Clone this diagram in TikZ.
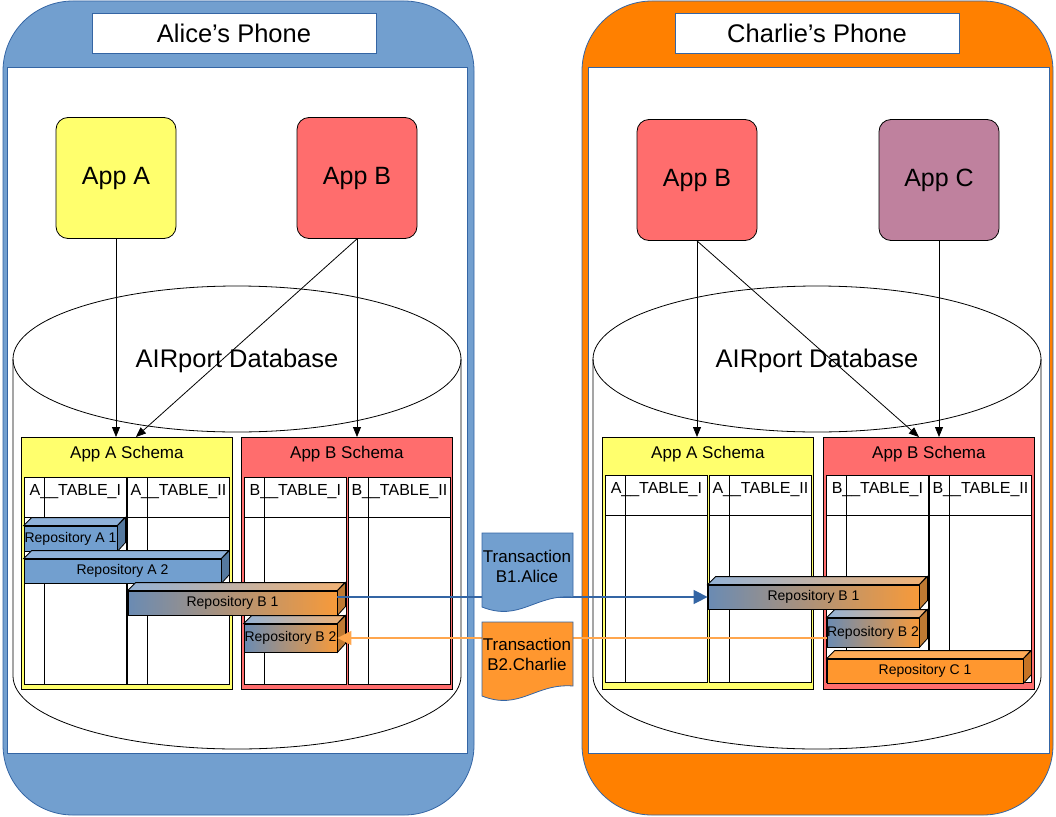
\documentclass[tikz,border=0pt]{standalone}
\usepackage{fontspec}
\setmainfont{Liberation Sans}
\usetikzlibrary{positioning,arrows.meta,calc}

\definecolor{phoneblue}{HTML}{729FCF}
\definecolor{lineblue}{HTML}{3465A4}
\definecolor{phoneorange}{HTML}{FF8000}
\definecolor{appyellow}{HTML}{FFFF6D}
\definecolor{appred}{HTML}{FF6D6D}
\definecolor{appmauve}{HTML}{BF819E}
\definecolor{txorange}{HTML}{FF972F}
\definecolor{xferorange}{HTML}{FFA64D}
\definecolor{bluetopc}{HTML}{8FB2DA}
\definecolor{bluesidec}{HTML}{55799F}
\definecolor{gradleft}{HTML}{6A8BB3}
\definecolor{gradright}{HTML}{F79A3A}
\definecolor{gradtopleft}{HTML}{93B2D6}
\definecolor{gradtopright}{HTML}{F2B274}
\definecolor{gradsidec}{HTML}{BF7A33}
\definecolor{orangetopc}{HTML}{FFAB57}
\definecolor{orangesidec}{HTML}{C57325}

\tikzset{
  titlebox/.style={draw=lineblue, fill=white, minimum width=284pt, minimum height=40pt, inner sep=0pt, font=\fontsize{25.5}{30}\selectfont},
  appbox/.style={draw, rounded corners=12pt, minimum width=120pt, minimum height=121pt, font=\fontsize{25}{30}\selectfont},
  schemabox/.style={draw, anchor=north west, minimum width=211pt, minimum height=252pt, inner sep=0pt},
  schemalabel/.style={font=\fontsize{17}{20}\selectfont},
  tablebox/.style={draw, fill=white, anchor=north west, minimum width=102pt, minimum height=207pt, inner sep=0pt},
  tablelabel/.style={font=\fontsize{16}{19}\selectfont},
  repofront/.style={draw, inner sep=0pt, font=\fontsize{14}{16}\selectfont},
  bluefront/.style={fill=phoneblue}, bluetop/.style={fill=bluetopc}, blueside/.style={fill=bluesidec},
  gradfront/.style={left color=gradleft, right color=gradright},
  gradtop/.style={left color=gradtopleft, right color=gradtopright},
  gradside/.style={fill=gradsidec},
  orangefront/.style={fill=txorange}, orangetop/.style={fill=orangetopc}, orangeside/.style={fill=orangesidec},
  appline/.style={-{Triangle[length=10pt,width=8pt]}},
  xfer/.style={line width=1.5pt, -{Triangle[length=14pt,width=14pt]}},
  txtext/.style={align=center, font=\fontsize{17}{20}\selectfont},
  doc/.style={draw=lineblue}
}

\newcommand{\dbcylinder}[2]{% centre x, label name
  \draw (#1-224,359) -- (#1-224,676) arc[start angle=180, end angle=0, x radius=224, y radius=73] -- (#1+224,359);
  \draw (#1,359) ellipse [x radius=224, y radius=73];
  \node[font=\fontsize{25.5}{30}\selectfont] (#2) at (#1,361) {AIRport Database};
}

\newcommand{\dbtable}[4]{% name, x, y, label
  \node[tablebox] (#1) at (#2,#3) {};
  \draw ([yshift=-40pt]#1.north west) -- ([yshift=-40pt]#1.north east);
  \draw ([xshift=20pt]#1.north west) -- ([xshift=20pt]#1.south west);
  \node[tablelabel] (#1-lbl) at ([yshift=-15pt]#1.north) {#4};
}

\newcommand{\repo}[7]{% name, x, y, width, height, label, colours
  \node[repofront, #7front, minimum width=#4pt, minimum height=#5pt] (#1) at (#2,#3) {#6};
  \draw[#7top] (#1.north west) -- ++(8,-8) -- ++(#4,0) -- (#1.north east) -- cycle;
  \draw[#7side] (#1.north east) -- ++(8,-8) -- ++(0,#5) -- (#1.south east) -- cycle;
}

\begin{document}
\begin{tikzpicture}[x=1pt,y=-1pt,line width=0.8pt]
\useasboundingbox (0,0) rectangle (1056,816);

% phones
\draw[lineblue, fill=phoneblue, rounded corners=70pt] (3,1) rectangle (474,815);
\draw[lineblue, fill=phoneorange, rounded corners=70pt] (582,1) rectangle (1053,815);
\draw[lineblue, fill=white] (7,67) rectangle (467,753);
\draw[lineblue, fill=white] (588,67) rectangle (1049,753);
\node[titlebox] (alicetitle) at (234,33) {Alice’s Phone};
\node[titlebox] (charlietitle) at (817,33) {Charlie’s Phone};

% databases
\dbcylinder{237}{alicedb}
\dbcylinder{817}{charliedb}

% apps
\node[appbox, fill=appyellow] (aliceappA) at (116,178) {App A};
\node[appbox, fill=appred] (aliceappB) at (357,178) {App B};
\node[appbox, fill=appred] (charlieappB) at (697,180) {App B};
\node[appbox, fill=appmauve] (charlieappC) at (939,180) {App C};

% schemas
\node[schemabox, fill=appyellow, label={[schemalabel, anchor=center, yshift=-17pt]north:App A Schema}] (aliceschemaA) at (21,437) {};
\node[schemabox, fill=appred, label={[schemalabel, anchor=center, yshift=-17pt]north:App B Schema}] (aliceschemaB) at (241,437) {};
\node[schemabox, fill=appyellow, label={[schemalabel, anchor=center, yshift=-17pt]north:App A Schema}] (charlieschemaA) at (602,437) {};
\node[schemabox, fill=appred, label={[schemalabel, anchor=center, yshift=-17pt]north:App B Schema}] (charlieschemaB) at (823,437) {};

% tables
\foreach \tname/\tx/\ty/\tlabel in {aliceAI/24/477/A\_\_TABLE\_I, aliceAII/127/477/A\_\_TABLE\_II,
    aliceBI/244/477/B\_\_TABLE\_I, aliceBII/348/477/B\_\_TABLE\_II,
    charlieAI/605/475/A\_\_TABLE\_I, charlieAII/709/475/A\_\_TABLE\_II,
    charlieBI/826/475/B\_\_TABLE\_I, charlieBII/929/475/B\_\_TABLE\_II}
  \dbtable{\tname}{\tx}{\ty}{\tlabel};

% repositories
\repo{aliceRA1}{70.5}{538.5}{93}{25}{Repository A 1}{blue}
\repo{aliceRA2}{122.5}{571}{197}{24}{Repository A 2}{blue}
\repo{aliceRB1}{232.5}{603}{209}{24}{Repository B 1}{grad}
\repo{aliceRB2}{290.5}{638}{93}{28}{Repository B 2}{grad}
\repo{charlieRB1}{813.5}{597}{211}{24}{Repository B 1}{grad}
\repo{charlieRB2}{873}{632.5}{92}{29}{Repository B 2}{grad}
\repo{charlieRC1}{925}{671}{196}{24}{Repository C 1}{orange}

% app to schema
\draw[appline] (aliceappA.south) -- (aliceappA.south |- aliceschemaA.north);
\draw[appline] (aliceappB.south) -- ($(aliceschemaA.north)+(9,0)$);
\draw[appline] (aliceappB.south) -- (aliceappB.south |- aliceschemaB.north);
\draw[appline] (charlieappB.south) -- (charlieappB.south |- charlieschemaA.north);
\draw[appline] (charlieappB.south) -- ($(charlieschemaB.north)+(-10,0)$);
\draw[appline] (charlieappC.south) -- (charlieappC.south |- charlieschemaB.north);

% transactions
\draw[xfer, lineblue] (charlieRB1.west -| aliceRB1.east) -- (charlieRB1.west);
\draw[xfer, xferorange] (charlieRB2.west |- aliceRB2.east) -- (aliceRB2.east);
\draw[doc, fill=phoneblue] (482,533) -- (573,533) -- (573,597) .. controls (535,594) and (520,622) .. (482,607) -- cycle;
\node[txtext] (txB1) at (527,566) {Transaction\\B1.Alice};
\draw[doc, fill=txorange] (482,622) -- (573,622) -- (573,686) .. controls (535,683) and (520,711) .. (482,696) -- cycle;
\node[txtext] (txB2) at (527,654) {Transaction\\B2.Charlie};
\end{tikzpicture}
\end{document}
